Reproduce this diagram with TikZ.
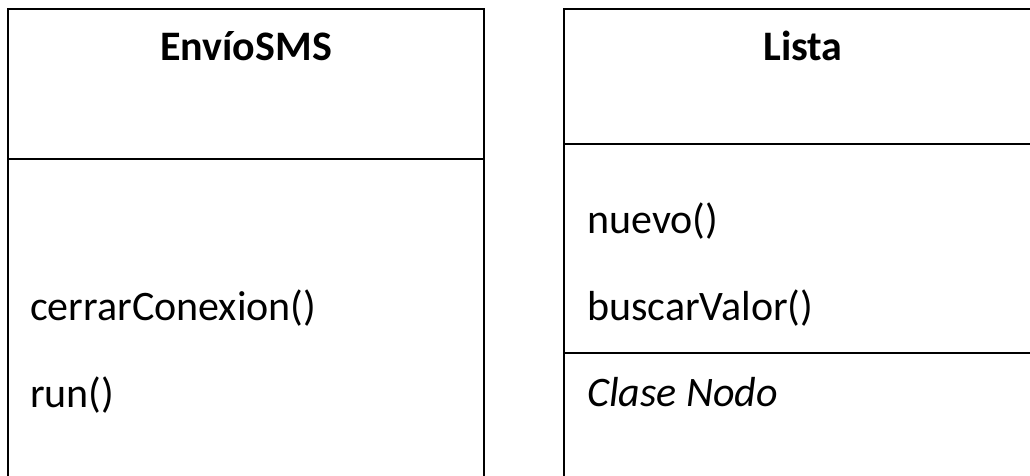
\documentclass[tikz,border=0pt]{standalone}
\usepackage{fontspec}
\setmainfont{Carlito}
\begin{document}
\begin{tikzpicture}[x=1pt,y=-1pt,
  frame/.style={draw=black,line width=1.6pt},
  title/.style={font=\fontsize{42}{50}\selectfont\bfseries,anchor=base,inner sep=0pt},
  member/.style={font=\fontsize{42}{50}\selectfont,anchor=base west,inner sep=0pt}]
\useasboundingbox (0,0) rectangle (1030,475);
\clip (0,0) rectangle (1030,475);
% class EnvioSMS
\draw[frame] (8,490) -- (8,9) -- (484,9) -- (484,490);
\draw[frame] (8,159) -- (484,159);
\node[title] (envio) at (246,60) {EnvíoSMS};
\node[member] (cerrar) at (30,320) {cerrarConexion()};
\node[member] (run) at (30,407) {run()};
% class Lista
\draw[frame] (564,490) -- (564,9) -- (1045,9) -- (1045,490);
\draw[frame] (564,144) -- (1045,144);
\draw[frame] (564,353) -- (1045,353);
\node[title] (lista) at (803,60) {Lista};
\node[member] (nuevo) at (587,233) {nuevo()};
\node[member] (buscar) at (587,320) {buscarValor()};
\node[member,font=\fontsize{42}{50}\selectfont\itshape] (nodo) at (587,406) {Clase Nodo};
\end{tikzpicture}
\end{document}
